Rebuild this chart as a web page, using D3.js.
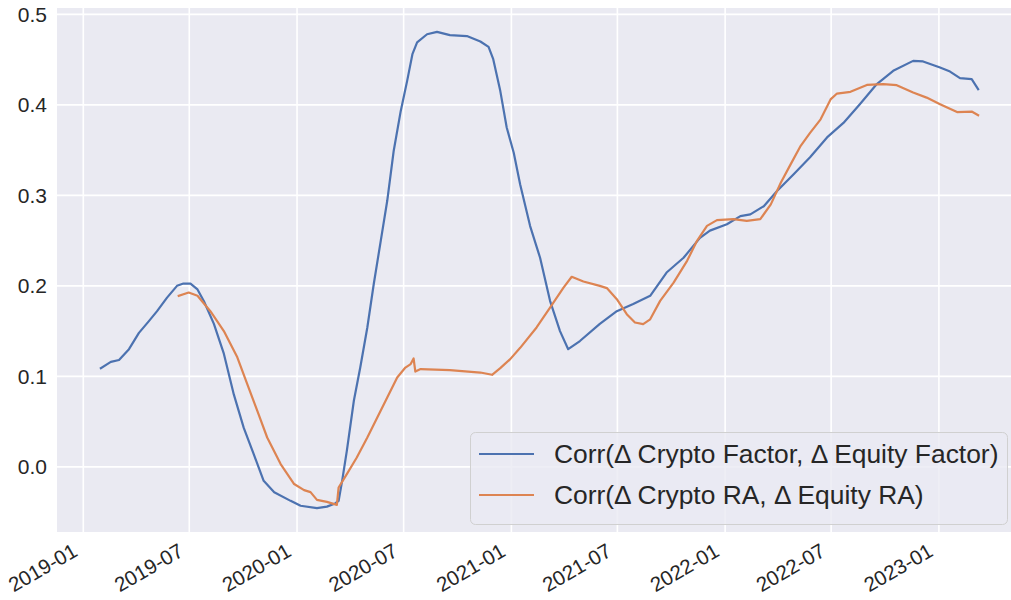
<!DOCTYPE html>
<html>
<head>
<meta charset="utf-8">
<script src="https://cdn.jsdelivr.net/npm/d3@7"></script>
<style>
  html, body { margin: 0; padding: 0; background: #ffffff; }
  svg { display: block; }
  text { font-family: "Liberation Sans", Arial, sans-serif; fill: #262626; }
</style>
</head>
<body>
<svg id="chart" width="1011" height="600"></svg>
<script>
// ---- data ----
const factorDates = ["2019-01-31","2019-02-17","2019-03-03","2019-03-20","2019-04-06","2019-04-23","2019-05-07","2019-05-24","2019-06-10","2019-06-21","2019-07-03","2019-07-15","2019-07-26","2019-08-12","2019-08-29","2019-09-15","2019-10-02","2019-10-19","2019-11-05","2019-11-23","2019-12-21","2020-01-07","2020-02-04","2020-02-21","2020-03-06","2020-03-12","2020-03-18","2020-03-26","2020-04-07","2020-04-18","2020-04-30","2020-05-11","2020-05-23","2020-06-03","2020-06-14","2020-06-26","2020-07-07","2020-07-16","2020-07-24","2020-08-10","2020-08-27","2020-09-18","2020-10-17","2020-11-09","2020-11-23","2020-12-01","2020-12-13","2020-12-24","2021-01-05","2021-01-16","2021-02-02","2021-02-19","2021-03-08","2021-03-25","2021-04-08","2021-04-28","2021-06-01","2021-06-30","2021-07-28","2021-08-26","2021-09-23","2021-10-22","2021-11-19","2021-12-06","2022-01-04","2022-01-27","2022-02-13","2022-03-08","2022-03-31","2022-04-28","2022-05-26","2022-06-24","2022-07-22","2022-08-19","2022-09-17","2022-10-15","2022-11-18","2022-12-05","2023-01-03","2023-01-20","2023-02-06","2023-02-26","2023-03-09"];
const factorValues = [0.109,0.116,0.118,0.130,0.148,0.161,0.172,0.187,0.200,0.2025,0.2025,0.196,0.183,0.158,0.125,0.080,0.043,0.014,-0.0155,-0.028,-0.0376,-0.043,-0.0457,-0.044,-0.0405,-0.0376,-0.0155,0.0177,0.073,0.110,0.154,0.202,0.250,0.294,0.349,0.393,0.4265,0.456,0.469,0.478,0.4807,0.477,0.476,0.470,0.464,0.4505,0.4155,0.375,0.347,0.312,0.266,0.231,0.1834,0.150,0.130,0.139,0.158,0.172,0.180,0.189,0.2147,0.231,0.253,0.261,0.268,0.277,0.279,0.288,0.305,0.3234,0.342,0.364,0.380,0.4007,0.423,0.4376,0.4486,0.448,0.4412,0.4368,0.4295,0.4284,0.4173];

const raDates = ["2019-06-13","2019-06-30","2019-07-15","2019-08-06","2019-08-29","2019-09-21","2019-10-08","2019-10-25","2019-11-11","2019-12-04","2019-12-27","2020-01-13","2020-01-24","2020-02-04","2020-02-21","2020-03-09","2020-03-12","2020-03-26","2020-04-12","2020-04-30","2020-05-17","2020-06-03","2020-06-20","2020-07-04","2020-07-13","2020-07-18","2020-07-21","2020-07-30","2020-09-18","2020-11-09","2020-11-29","2020-12-13","2020-12-30","2021-01-16","2021-02-13","2021-03-08","2021-03-31","2021-04-14","2021-05-04","2021-06-01","2021-06-13","2021-06-30","2021-07-17","2021-07-31","2021-08-14","2021-08-26","2021-09-12","2021-10-05","2021-10-28","2021-11-14","2021-12-01","2021-12-18","2022-01-15","2022-02-07","2022-03-02","2022-03-20","2022-04-06","2022-04-23","2022-05-10","2022-05-26","2022-06-13","2022-06-30","2022-07-11","2022-08-03","2022-08-31","2022-09-28","2022-10-21","2022-11-18","2022-12-11","2023-01-03","2023-02-01","2023-02-26","2023-03-09"];
const raValues = [0.189,0.1926,0.189,0.172,0.150,0.121,0.0914,0.062,0.0324,0.003,-0.019,-0.0258,-0.028,-0.0365,-0.0387,-0.042,-0.0228,-0.008,0.0103,0.0324,0.0545,0.0766,0.0987,0.1097,0.1135,0.1197,0.1053,0.108,0.1068,0.1042,0.1017,0.109,0.119,0.1315,0.154,0.176,0.198,0.210,0.2048,0.200,0.1975,0.1853,0.1687,0.1595,0.1577,0.163,0.1834,0.2036,0.2276,0.2497,0.2663,0.2726,0.2737,0.2718,0.2737,0.290,0.314,0.3345,0.3547,0.369,0.384,0.406,0.4125,0.4144,0.422,0.4229,0.4217,0.4136,0.408,0.4007,0.392,0.3926,0.3886];

const xTickLabels = ["2019-01","2019-07","2020-01","2020-07","2021-01","2021-07","2022-01","2022-07","2023-01"];
const yTickValues = [0.0, 0.1, 0.2, 0.3, 0.4, 0.5];
const seriesNames = ["Corr(\u0394 Crypto Factor, \u0394 Equity Factor)", "Corr(\u0394 Crypto RA, \u0394 Equity RA)"];
const seriesColors = ["#4C72B0", "#DD8452"];

// ---- layout ----
const W = 1011, H = 600;
const plot = { left: 57, right: 1022, top: 8, bottom: 532 };
const parse = d3.timeParse("%Y-%m-%d");
const parseMonth = d3.timeParse("%Y-%m");

const series = [
  factorDates.map((d, i) => ({ date: parse(d), value: factorValues[i] })),
  raDates.map((d, i) => ({ date: parse(d), value: raValues[i] }))
];
const all = series.flat();

const [dMin, dMax] = d3.extent(all, d => d.date);
const dPad = (dMax - dMin) * 0.05;
const x = d3.scaleTime()
  .domain([new Date(+dMin - dPad), new Date(+dMax + dPad)])
  .range([plot.left, plot.right]);

const [vMin, vMax] = d3.extent(all, d => d.value);
const vPad = (vMax - vMin) * 0.05;
const y = d3.scaleLinear()
  .domain([vMin - vPad, vMax + vPad])
  .range([plot.bottom, plot.top]);

const svg = d3.select("#chart");

svg.append("defs").append("clipPath").attr("id", "clip")
  .append("rect").attr("x", plot.left).attr("y", plot.top)
  .attr("width", plot.right - plot.left).attr("height", plot.bottom - plot.top);

svg.append("rect")
  .attr("x", plot.left).attr("y", plot.top)
  .attr("width", plot.right - plot.left).attr("height", plot.bottom - plot.top)
  .attr("fill", "#EAEAF2");

const xTicks = xTickLabels.map(s => parseMonth(s));

// grid
const grid = svg.append("g").attr("clip-path", "url(#clip)");
grid.selectAll("line.gx").data(xTicks).join("line")
  .attr("x1", d => x(d)).attr("x2", d => x(d))
  .attr("y1", plot.top).attr("y2", plot.bottom)
  .attr("stroke", "#ffffff").attr("stroke-width", 1.6);
grid.selectAll("line.gy").data(yTickValues).join("line")
  .attr("x1", plot.left).attr("x2", plot.right)
  .attr("y1", d => y(d)).attr("y2", d => y(d))
  .attr("stroke", "#ffffff").attr("stroke-width", 1.6);

// axes (tick labels only)
const yAxis = d3.axisLeft(y).tickValues(yTickValues).tickFormat(d3.format(".1f")).tickSize(0).tickPadding(10);
const gy = svg.append("g").attr("transform", `translate(${plot.left},0)`).call(yAxis);
gy.select(".domain").remove();
gy.selectAll("text").attr("font-size", 21).attr("font-family", "Liberation Sans, Arial, sans-serif").attr("fill", "#262626");

const xAxis = d3.axisBottom(x).tickValues(xTicks).tickFormat(d3.timeFormat("%Y-%m")).tickSize(0).tickPadding(0);
const gx = svg.append("g").attr("transform", `translate(0,${plot.bottom})`).call(xAxis);
gx.select(".domain").remove();
gx.selectAll("text")
  .attr("font-size", 20.5).attr("font-family", "Liberation Sans, Arial, sans-serif").attr("fill", "#262626")
  .attr("text-anchor", "end")
  .attr("dy", null).attr("y", null)
  .attr("transform", "translate(-5,23) rotate(-30)");

// lines
const line = d3.line().x(d => x(d.date)).y(d => y(d.value));
const lines = svg.append("g").attr("clip-path", "url(#clip)");
series.forEach((s, i) => {
  lines.append("path").datum(s)
    .attr("fill", "none")
    .attr("stroke", seriesColors[i])
    .attr("stroke-width", 2.2)
    .attr("stroke-linejoin", "round")
    .attr("stroke-linecap", "square")
    .attr("d", line);
});

// legend
const lg = svg.append("g");
lg.append("rect")
  .attr("x", 470.5).attr("y", 432.5).attr("width", 537).attr("height", 92)
  .attr("rx", 5).attr("ry", 5)
  .attr("fill", "#EAEAF2").attr("fill-opacity", 0.8)
  .attr("stroke", "#d0d0d0").attr("stroke-width", 1);
const rows = [454, 495];
seriesNames.forEach((name, i) => {
  lg.append("line")
    .attr("x1", 479).attr("x2", 534).attr("y1", rows[i]).attr("y2", rows[i])
    .attr("stroke", seriesColors[i]).attr("stroke-width", 2.2);
  lg.append("text")
    .attr("x", 554).attr("y", rows[i])
    .attr("dy", "0.35em")
    .attr("font-size", 26.4)
    .text(name);
});
</script>
</body>
</html>
